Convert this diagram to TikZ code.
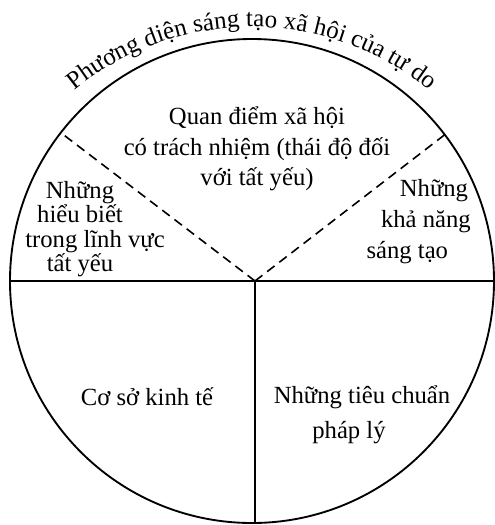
\documentclass[tikz,border=0pt]{standalone}
\usepackage{fontspec}
\setmainfont{Liberation Serif}
\usetikzlibrary{decorations.text}
\newcommand\lblfont{\fontsize{18.5}{23}\selectfont}
\newcommand\arcfont{\fontsize{18.8}{23}\selectfont}
\begin{document}
\begin{tikzpicture}[x=0.75pt,y=0.75pt,
  rim/.style={line width=1.4pt},
  divider/.style={line width=1.6pt},
  dashline/.style={line width=1.2pt, dash pattern=on 7pt off 4.5pt},
  lbl/.style={inner sep=0pt, align=center, font=\lblfont}]
\useasboundingbox (0,0) rectangle (494,-525);
\coordinate (O) at (252,-281);
\coordinate (T) at (252,-308);
\coordinate (M) at (255,-281);
\coordinate (L) at ([shift={(180:242)}]O);
\coordinate (R) at ([shift={(0:242)}]O);
\coordinate (B) at (255,-523);
\coordinate (DL) at ([shift={(142.2:242)}]O);
\coordinate (DR) at ([shift={(37.2:242)}]O);
\draw[rim] (O) circle[radius=242];
\draw[divider] (L) -- (R);
\draw[divider] (M) -- (B);
\draw[dashline] (M) -- (DL);
\draw[dashline] (M) -- (DR);
\path[decorate, decoration={text along path, text align=center,
  text={|\arcfont|Phương diện sáng tạo xã hội của tự do}}]
  ([shift={(150:281)}]T) arc[start angle=150, end angle=30, radius=281];
\node[lbl] (top) at (257,-149) {Quan điểm xã hội\\có trách nhiệm (thái độ đối\\với tất yếu)};
\node[lbl, font=\fontsize{18.5}{18.4}\selectfont] (left) at (80,-229) {Những\\hiểu biết\\\hspace*{22.5pt}trong lĩnh vực\\tất yếu};
\node[lbl, align=right, anchor=east, font=\fontsize{18.5}{23.5}\selectfont] (right) at (471,-221.5) {Những\hspace*{2pt}\\khả năng\\sáng tạo\hspace*{17pt}};
\node[lbl] (eco) at (147,-397) {Cơ sở kinh tế};
\node[lbl, font=\fontsize{18.5}{26}\selectfont] (law) at (362,-414.5) {Những tiêu chuẩn\\pháp lý\hspace*{19.5pt}};
\end{tikzpicture}
\end{document}
